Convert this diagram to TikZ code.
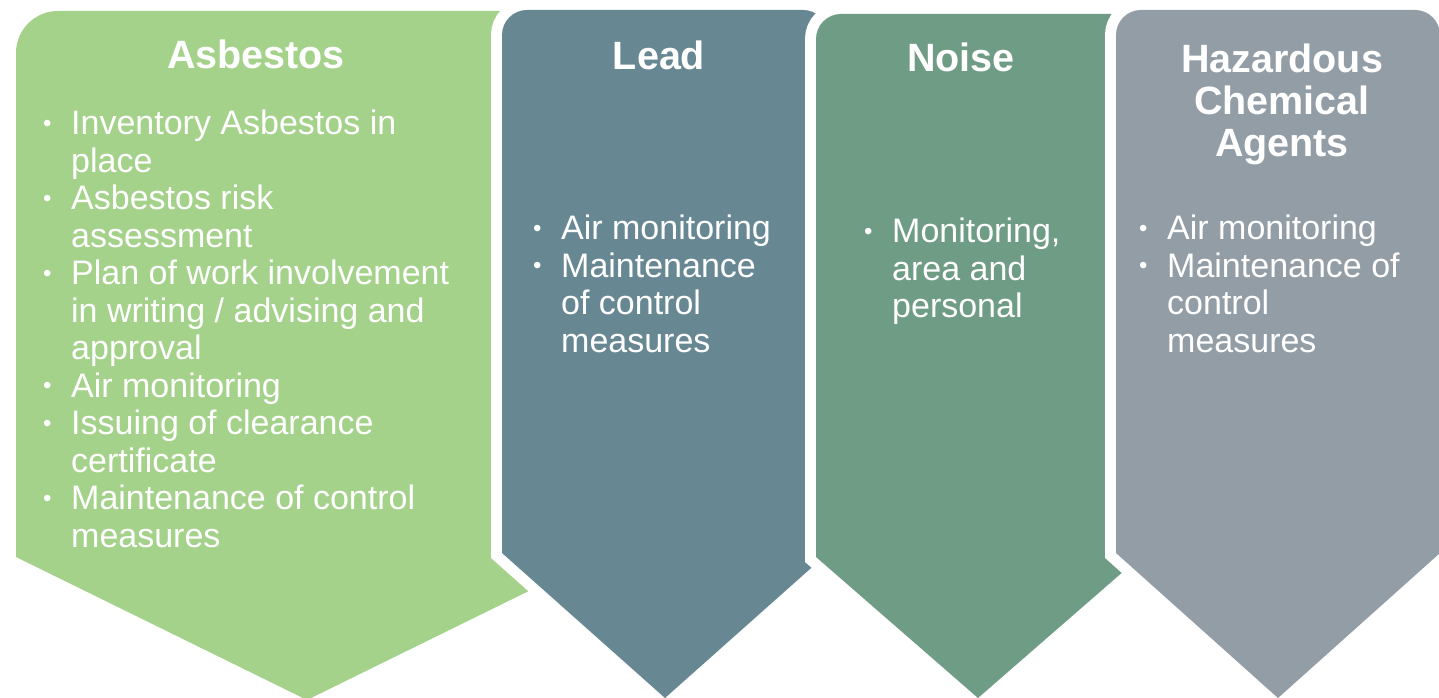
\documentclass[tikz,border=0pt]{standalone}
\usepackage{fontspec}
\setmainfont{Liberation Sans}
\definecolor{asbcol}{RGB}{165,210,139}
\definecolor{leadcol}{RGB}{103,136,147}
\definecolor{noisecol}{RGB}{111,156,132}
\definecolor{hazcol}{RGB}{146,157,165}
% #1 left x, #2 right x, #3 top y, #4 shoulder y, #5 tip, #6 corner radius
\newcommand{\chevpath}[6]{(#1,#4) -- (#1,#3-#6) arc[start angle=180,end angle=90,radius=#6] -- (#2-#6,#3) arc[start angle=90,end angle=0,radius=#6] -- (#2,#4) -- (#5) -- cycle}
\newcommand{\bul}{\makebox[30pt][l]{\hspace{2pt}\raisebox{3.5pt}{\fontsize{24}{24}\selectfont •}}}
\tikzset{
  band/.style={preaction={draw=white, line width=22pt, line join=miter}},
  bodytext/.style={text=white, inner sep=0pt, anchor=base west, font=\fontsize{34}{37.5}\selectfont},
  titletext/.style={text=white, inner sep=0pt, anchor=base, font=\bfseries\fontsize{39.5}{42}\selectfont},
}
\begin{document}
\begin{tikzpicture}[x=1pt,y=1pt]
\useasboundingbox (0,0) rectangle (1439,698);
\fill[white] (0,0) rectangle (1439,698);

% Asbestos
\path[band, fill=asbcol] \chevpath{16}{598}{687}{141}{307,-2}{42};
\node[titletext] (asbtitle) at (256,629) {Asbestos};
\node[bodytext] (asbbody) at (41,563) {\begin{tabular}[t]{@{}l@{}l@{}}
\bul & Inventory Asbestos in\\
 & place\\
\bul & Asbestos risk\\
 & assessment\\
\bul & Plan of work involvement\\
 & in writing / advising and\\
 & approval\\
\bul & Air monitoring\\
\bul & Issuing of clearance\\
 & certificate\\
\bul & Maintenance of control\\
 & measures
\end{tabular}};

% Lead
\path[band, fill=leadcol] \chevpath{502}{828}{688}{145}{665,0}{25};
\node[titletext] (leadtitle) at (659,628) {Lead};
\node[bodytext] (leadbody) at (531,458) {\begin{tabular}[t]{@{}l@{}l@{}}
\bul & Air monitoring\\
\bul & Maintenance\\
 & of control\\
 & measures
\end{tabular}};

% Noise
\path[band, fill=noisecol] \chevpath{816}{1140}{684}{141}{978,0}{25};
\node[titletext] (noisetitle) at (961,626) {Noise};
\node[bodytext] (noisebody) at (862,455) {\begin{tabular}[t]{@{}l@{}l@{}}
\bul & Monitoring,\\
 & area and\\
 & personal
\end{tabular}};

% Hazardous Chemical Agents
\path[band, fill=hazcol] \chevpath{1116}{1440}{688}{145}{1278,0}{25};
\node[titletext] (haztitle) at (1282,625) {\begin{tabular}[t]{@{}c@{}}Hazardous\\ Chemical\\ Agents\end{tabular}};
\node[bodytext] (hazbody) at (1137,458) {\begin{tabular}[t]{@{}l@{}l@{}}
\bul & Air monitoring\\
\bul & Maintenance of\\
 & control\\
 & measures
\end{tabular}};
\end{tikzpicture}
\end{document}
